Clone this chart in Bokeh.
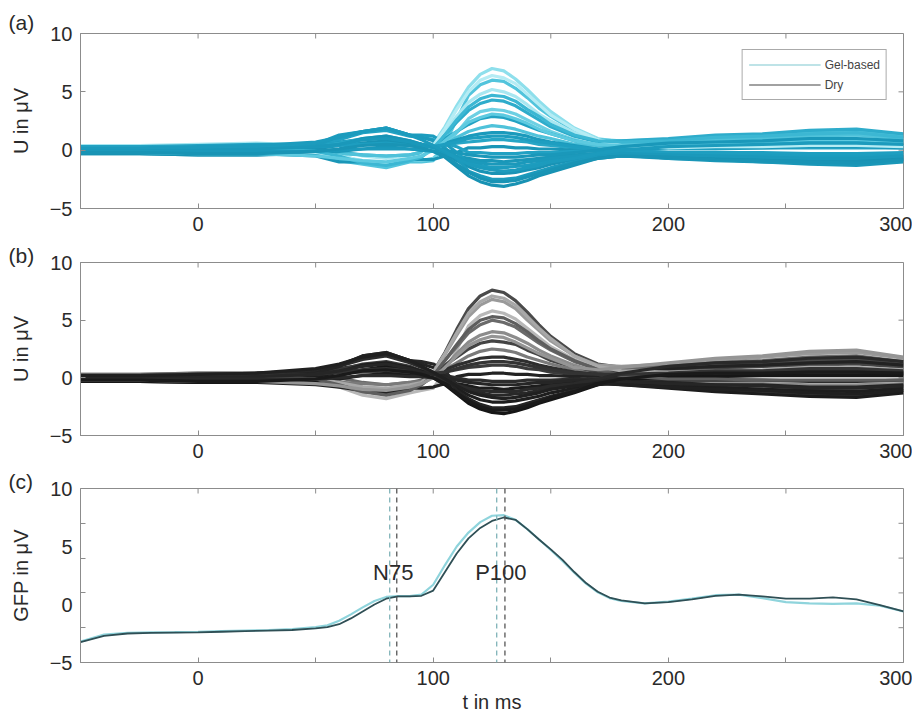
import math
from bokeh.plotting import figure
from bokeh.layouts import column
from bokeh.models import (FixedTicker, Range1d, Label, Span, Title,
                          Legend, LegendItem)
from bokeh.embed import file_html
from bokeh.resources import INLINE

# ---------------- data ----------------
T = [-50, -25, 0, 25, 50, 60, 70, 80, 90, 95, 100, 105, 110, 115, 120, 125,
     130, 135, 140, 145, 150, 160, 170, 180, 200, 220, 240, 260, 280, 300]

GEL_01 = [0.3,0.3,0.4,0.4,0.1,-0.4,-1.0,-1.3,-0.8,-0.5,0.5,2.0,3.8,5.4,6.5,7.0,6.8,6.1,5.2,4.2,3.3,1.9,1.0,0.7,0.7,0.8,1.0,1.1,1.2,0.9]
GEL_02 = [0.2,0.2,0.3,0.2,-0.1,-0.9,-1.2,-1.5,-1.0,-1.0,-0.9,0.6,2.6,4.7,5.6,6.0,5.9,5.3,4.5,3.6,2.9,1.7,0.9,0.8,0.9,1.1,1.3,1.5,1.6,1.2]
GEL_03 = [0.4,0.4,0.5,0.6,0.4,0.0,-0.5,-0.7,-0.4,-0.2,0.5,1.6,2.9,4.1,4.8,5.2,5.0,4.6,3.9,3.1,2.5,1.5,0.8,0.5,0.5,0.6,0.7,0.9,0.9,0.7]
GEL_04 = [0.1,0.1,0.1,0.1,0.0,-0.2,-0.4,-0.5,-0.4,-0.2,0.3,1.3,2.4,3.4,4.0,4.3,4.2,3.8,3.2,2.6,2.0,1.2,0.7,0.8,1.0,1.3,1.4,1.7,1.8,1.4]
GEL_05 = [0.0,0.0,0.0,-0.1,-0.3,-0.6,-1.0,-1.2,-0.8,-0.9,-0.7,0.3,1.5,2.7,3.3,3.5,3.4,3.1,2.6,2.1,1.6,0.9,0.4,0.1,-0.2,-0.3,-0.3,-0.4,-0.4,-0.3]
GEL_06 = [0.3,0.3,0.4,0.5,0.5,0.5,0.6,0.5,0.4,0.3,0.5,1.0,1.6,2.2,2.7,2.9,2.8,2.5,2.1,1.7,1.4,0.8,0.4,0.3,0.3,0.4,0.4,0.5,0.5,0.4]
GEL_07 = [-0.1,-0.1,-0.1,-0.2,-0.3,-0.3,-0.4,-0.5,-0.4,-0.2,0.1,0.5,1.1,1.6,1.9,2.1,2.0,1.8,1.5,1.2,1.0,0.5,0.4,0.5,0.7,0.9,1.0,1.2,1.3,1.0]
GEL_08 = [0.2,0.2,0.3,0.3,0.5,0.7,0.9,1.0,0.7,0.5,0.5,0.6,0.9,1.2,1.4,1.5,1.5,1.4,1.2,0.9,0.7,0.4,0.1,-0.2,-0.4,-0.6,-0.6,-0.8,-0.8,-0.6]
GEL_09 = [0.0,0.0,0.0,0.1,0.3,0.6,1.0,1.2,0.8,0.5,0.4,0.4,0.6,0.7,0.8,0.9,0.9,0.8,0.7,0.5,0.4,0.2,0.1,0.1,0.1,0.1,0.2,0.2,0.2,0.2]
GEL_10 = [-0.2,-0.2,-0.3,-0.3,-0.5,-1.0,-1.0,-1.1,-0.8,-0.8,-0.8,-0.5,-0.2,0.2,0.2,0.3,0.3,0.2,0.2,0.1,0.1,0.0,-0.1,-0.3,-0.7,-0.8,-1.0,-1.1,-1.2,-0.9]
GEL_11 = [0.1,0.1,0.1,0.2,0.6,0.9,1.5,1.7,1.2,1.1,0.9,0.6,0.3,-0.2,-0.2,-0.3,-0.3,-0.3,-0.2,-0.2,-0.2,-0.1,0.0,0.2,0.4,0.5,0.6,0.7,0.7,0.5]
GEL_12 = [-0.3,-0.3,-0.4,-0.4,-0.3,-0.1,0.1,0.3,0.1,0.0,-0.1,-0.2,-0.5,-0.7,-0.9,-0.9,-1.0,-0.9,-0.8,-0.7,-0.6,-0.4,-0.3,-0.5,-0.7,-0.9,-1.0,-1.2,-1.3,-1.0]
GEL_13 = [0.0,0.0,0.0,0.1,0.5,1.3,1.6,1.9,1.3,1.3,1.2,0.6,-0.2,-1.1,-1.3,-1.5,-1.5,-1.4,-1.3,-1.1,-0.9,-0.6,-0.4,-0.3,-0.3,-0.4,-0.4,-0.5,-0.5,-0.4]
GEL_14 = [-0.2,-0.2,-0.3,-0.2,0.1,0.4,1.0,1.2,0.8,0.5,0.2,-0.3,-0.9,-1.4,-1.8,-2.0,-2.0,-1.9,-1.7,-1.5,-1.2,-0.8,-0.5,-0.5,-0.6,-0.7,-0.8,-1.0,-1.0,-0.8]
GEL_15 = [-0.1,-0.1,-0.1,0.0,0.4,1.2,1.6,1.9,1.3,1.1,0.8,0.2,-0.7,-1.8,-2.2,-2.5,-2.5,-2.4,-2.1,-1.8,-1.5,-1.0,-0.5,-0.1,0.2,0.2,0.2,0.3,0.3,0.2]
GEL_16 = [-0.3,-0.3,-0.4,-0.4,-0.2,0.1,0.6,0.8,0.5,0.3,-0.1,-0.6,-1.4,-2.2,-2.7,-3.0,-3.1,-2.9,-2.6,-2.2,-1.9,-1.3,-0.7,-0.5,-0.5,-0.6,-0.7,-0.9,-0.9,-0.7]
GEL_17 = [0.1,0.1,0.1,0.1,-0.2,-0.5,-0.9,-1.1,-0.8,-0.5,0.4,1.8,3.5,5.0,6.0,6.4,6.2,5.7,4.8,3.9,3.0,1.8,0.9,0.4,0.2,0.3,0.3,0.4,0.4,0.3]
GEL_18 = [0.2,0.2,0.3,0.2,-0.1,-0.5,-1.1,-1.3,-0.9,-0.6,0.2,1.3,2.6,3.7,4.4,4.7,4.6,4.2,3.5,2.9,2.2,1.3,0.8,0.7,0.8,1.1,1.2,1.4,1.5,1.1]
GEL_19 = [-0.2,-0.2,-0.3,-0.3,-0.5,-0.7,-0.9,-1.0,-0.7,-0.5,0.0,0.8,1.6,2.4,2.8,3.1,3.0,2.7,2.3,1.8,1.4,0.8,0.5,0.4,0.5,0.6,0.7,0.9,0.9,0.7]
GEL_20 = [0.1,0.1,0.1,0.2,0.3,0.4,0.5,0.6,0.4,0.3,0.3,0.5,0.7,1.0,1.1,1.2,1.2,1.1,0.9,0.7,0.6,0.3,0.1,0.0,-0.2,-0.2,-0.2,-0.3,-0.3,-0.2]
GEL_21 = [0.0,0.0,0.0,0.1,0.3,0.5,0.9,1.0,0.7,0.5,0.2,0.0,-0.2,-0.4,-0.5,-0.6,-0.6,-0.6,-0.5,-0.4,-0.4,-0.2,0.0,0.3,0.6,0.7,0.8,1.0,1.0,0.8]
GEL_22 = [-0.1,-0.1,-0.1,-0.1,-0.1,0.0,0.1,0.1,0.1,0.0,-0.1,-0.3,-0.6,-0.9,-1.1,-1.2,-1.2,-1.2,-1.0,-0.9,-0.7,-0.5,-0.3,-0.3,-0.4,-0.5,-0.6,-0.7,-0.7,-0.5]
GEL_23 = [0.2,0.2,0.3,0.4,0.7,1.1,1.6,1.9,1.3,0.9,0.4,-0.1,-0.7,-1.2,-1.5,-1.7,-1.8,-1.7,-1.5,-1.3,-1.0,-0.7,-0.3,0.0,0.3,0.4,0.5,0.6,0.6,0.5]
GEL_24 = [-0.2,-0.2,-0.3,-0.3,-0.1,0.1,0.4,0.5,0.4,0.2,-0.1,-0.5,-1.2,-1.9,-2.4,-2.7,-2.7,-2.6,-2.3,-2.0,-1.7,-1.1,-0.7,-0.5,-0.6,-0.8,-0.9,-1.0,-1.1,-0.8]

DRY_01 = [0.2,0.2,0.3,0.2,-0.1,-0.5,-1.2,-1.4,-1.0,-0.6,0.5,2.2,4.2,6.0,7.1,7.6,7.4,6.7,5.7,4.6,3.6,2.1,1.2,0.9,0.9,1.1,1.3,1.5,1.6,1.2]
DRY_02 = [0.3,0.3,0.4,0.4,0.1,-0.3,-0.8,-1.1,-0.7,-0.4,0.5,2.0,3.7,5.3,6.3,6.8,6.6,6.0,5.0,4.1,3.2,1.9,1.1,1.0,1.2,1.5,1.8,2.1,2.2,1.7]
DRY_03 = [0.1,0.1,0.1,0.1,-0.3,-0.8,-1.5,-1.8,-1.3,-1.1,-0.9,0.5,2.4,4.5,5.4,5.8,5.6,5.1,4.3,3.5,2.7,1.6,0.8,0.5,0.4,0.6,0.6,0.8,0.8,0.6]
DRY_04 = [0.3,0.3,0.4,0.4,0.3,0.0,-0.4,-0.6,-0.4,-0.2,0.4,1.5,2.7,3.9,4.6,5.0,4.8,4.4,3.7,3.0,2.4,1.4,0.8,0.8,1.0,1.3,1.5,1.8,1.9,1.4]
DRY_05 = [0.0,0.0,0.0,-0.1,-0.4,-0.7,-1.2,-1.4,-1.0,-0.6,0.1,1.0,2.1,3.1,3.7,4.0,3.9,3.5,3.0,2.4,1.9,1.1,0.5,0.0,-0.3,-0.4,-0.5,-0.6,-0.6,-0.5]
DRY_06 = [0.2,0.2,0.3,0.3,0.4,0.5,0.5,0.6,0.4,0.3,0.5,1.1,1.8,2.5,3.0,3.2,3.1,2.9,2.4,2.0,1.5,0.9,0.5,0.5,0.7,0.8,1.0,1.1,1.2,0.9]
DRY_07 = [-0.1,-0.1,-0.1,-0.2,-0.3,-0.4,-0.5,-0.6,-0.4,-0.3,0.1,0.7,1.3,1.9,2.3,2.5,2.4,2.2,1.8,1.5,1.2,0.7,0.2,-0.2,-0.6,-0.7,-0.8,-1.0,-1.0,-0.8]
DRY_08 = [0.2,0.2,0.3,0.4,0.6,0.8,1.1,1.2,0.8,0.6,0.5,0.7,1.1,1.4,1.7,1.8,1.8,1.6,1.4,1.1,0.9,0.5,0.3,0.2,0.2,0.3,0.3,0.4,0.4,0.3]
DRY_09 = [0.0,0.0,0.0,0.1,0.4,0.7,1.2,1.4,1.0,0.6,0.5,0.5,0.7,0.9,1.0,1.1,1.1,1.0,0.8,0.7,0.5,0.3,0.0,-0.4,-0.8,-1.1,-1.2,-1.4,-1.5,-1.1]
DRY_10 = [-0.2,-0.2,-0.3,-0.4,-0.6,-0.8,-1.1,-1.3,-0.9,-0.9,-0.8,-0.5,0.1,0.3,0.3,0.4,0.4,0.3,0.3,0.2,0.2,0.1,0.2,0.4,0.8,1.0,1.1,1.3,1.4,1.1]
DRY_11 = [0.1,0.1,0.1,0.2,0.6,1.0,1.6,1.9,1.3,0.9,0.5,0.2,0.0,-0.2,-0.2,-0.3,-0.3,-0.3,-0.2,-0.2,-0.2,-0.1,-0.1,-0.1,-0.2,-0.2,-0.2,-0.3,-0.3,-0.2]
DRY_12 = [-0.3,-0.3,-0.4,-0.4,-0.3,-0.1,0.2,0.4,0.2,0.1,0.0,-0.2,-0.5,-0.7,-0.9,-0.9,-1.0,-0.9,-0.8,-0.7,-0.6,-0.4,-0.4,-0.6,-0.9,-1.2,-1.4,-1.6,-1.7,-1.3]
DRY_13 = [0.0,0.0,0.0,0.1,0.6,1.1,1.9,2.2,1.5,1.4,1.2,0.6,-0.6,-1.1,-1.3,-1.5,-1.5,-1.4,-1.3,-1.1,-0.9,-0.6,-0.2,0.1,0.3,0.4,0.5,0.6,0.6,0.5]
DRY_14 = [-0.2,-0.2,-0.3,-0.2,0.1,0.5,1.1,1.3,0.9,0.6,0.2,-0.3,-0.9,-1.5,-1.9,-2.1,-2.1,-2.0,-1.8,-1.6,-1.3,-0.9,-0.5,-0.5,-0.7,-0.8,-1.0,-1.1,-1.2,-0.9]
DRY_15 = [-0.1,-0.1,-0.1,0.0,0.4,1.0,1.9,2.2,1.5,1.2,0.9,0.2,-1.1,-1.8,-2.3,-2.6,-2.6,-2.5,-2.2,-1.9,-1.6,-1.1,-0.6,-0.4,-0.4,-0.6,-0.6,-0.8,-0.8,-0.6]
DRY_16 = [-0.3,-0.3,-0.4,-0.4,-0.2,0.2,0.7,1.0,0.6,0.4,0.0,-0.6,-1.4,-2.2,-2.7,-3.0,-3.1,-2.9,-2.6,-2.2,-1.9,-1.3,-0.6,-0.2,0.1,0.1,0.2,0.2,0.2,0.2]
DRY_17 = [0.1,0.1,0.1,0.1,-0.1,-0.4,-0.8,-0.9,-0.6,-0.4,0.5,2.1,3.9,5.6,6.6,7.1,6.9,6.3,5.3,4.3,3.4,1.9,1.0,0.6,0.5,0.6,0.7,0.9,0.9,0.7]
DRY_18 = [0.2,0.2,0.3,0.2,-0.1,-0.6,-1.2,-1.5,-1.1,-0.6,0.2,1.5,2.9,4.2,5.0,5.3,5.2,4.7,4.0,3.2,2.5,1.5,0.7,0.2,-0.1,-0.1,-0.2,-0.2,-0.2,-0.2]
DRY_19 = [-0.2,-0.2,-0.3,-0.3,-0.5,-0.7,-1.0,-1.1,-0.8,-0.5,0.0,0.9,1.9,2.8,3.3,3.6,3.5,3.1,2.6,2.1,1.7,0.9,0.7,0.9,1.3,1.7,1.9,2.3,2.4,1.8]
DRY_20 = [0.1,0.1,0.1,0.2,0.3,0.5,0.7,0.8,0.6,0.4,0.4,0.5,0.8,1.1,1.3,1.4,1.4,1.3,1.1,0.9,0.7,0.4,0.3,0.3,0.4,0.6,0.6,0.8,0.8,0.6]
DRY_21 = [0.0,0.0,0.0,0.1,0.3,0.6,1.0,1.2,0.8,0.5,0.3,0.0,-0.2,-0.4,-0.5,-0.6,-0.6,-0.6,-0.5,-0.4,-0.4,-0.2,-0.2,-0.3,-0.5,-0.6,-0.7,-0.9,-0.9,-0.7]
DRY_22 = [-0.1,-0.1,-0.1,-0.1,-0.1,0.0,0.2,0.2,0.1,0.1,0.0,-0.2,-0.6,-0.9,-1.1,-1.2,-1.2,-1.2,-1.0,-0.9,-0.7,-0.5,-0.1,0.4,1.0,1.3,1.4,1.7,1.8,1.4]
DRY_23 = [0.2,0.2,0.3,0.4,0.8,1.2,1.8,2.1,1.5,1.0,0.5,-0.1,-0.7,-1.2,-1.5,-1.7,-1.8,-1.7,-1.5,-1.3,-1.0,-0.7,-0.5,-0.6,-0.8,-1.0,-1.1,-1.3,-1.4,-1.1]
DRY_24 = [-0.2,-0.2,-0.3,-0.3,-0.1,0.2,0.6,0.7,0.5,0.3,0.0,-0.5,-1.3,-2.0,-2.5,-2.8,-2.8,-2.7,-2.4,-2.1,-1.7,-1.2,-0.5,-0.1,0.3,0.4,0.4,0.5,0.5,0.4]

GEL = [GEL_01, GEL_02, GEL_03, GEL_04, GEL_05, GEL_06, GEL_07, GEL_08,
       GEL_09, GEL_10, GEL_11, GEL_12, GEL_13, GEL_14, GEL_15, GEL_16,
       GEL_17, GEL_18, GEL_19, GEL_20, GEL_21, GEL_22, GEL_23, GEL_24]
DRY = [DRY_01, DRY_02, DRY_03, DRY_04, DRY_05, DRY_06, DRY_07, DRY_08,
       DRY_09, DRY_10, DRY_11, DRY_12, DRY_13, DRY_14, DRY_15, DRY_16,
       DRY_17, DRY_18, DRY_19, DRY_20, DRY_21, DRY_22, DRY_23, DRY_24]

TG = [-50, -40, -30, -20, -10, 0, 10, 20, 30, 40, 50, 55, 60, 65, 70, 75, 80,
      85, 90, 95, 100, 105, 110, 115, 120, 125, 130, 135, 140, 145, 150, 155,
      160, 165, 170, 175, 180, 190, 200, 210, 220, 230, 240, 250, 260, 270,
      280, 290, 300]
GFP_GEL = [-3.2, -2.6, -2.45, -2.4, -2.38, -2.35, -2.3, -2.25, -2.2, -2.12, -1.95,
           -1.8, -1.4, -0.85, -0.25, 0.3, 0.65, 0.72, 0.72, 0.85, 1.7,
           3.4, 5.0, 6.2, 7.1, 7.65, 7.7, 7.3, 6.5, 5.6, 4.7,
           3.75, 2.75, 1.8, 1.05, 0.55, 0.3,
           0.1, 0.25, 0.5, 0.8, 0.85, 0.55, 0.2, 0.1, 0.05, 0.1, -0.1, -0.6]
GFP_DRY = [-3.25, -2.7, -2.5, -2.45, -2.42, -2.4, -2.35, -2.3, -2.25, -2.2, -2.05,
           -1.95, -1.7, -1.2, -0.6, 0.0, 0.5, 0.7, 0.7, 0.75, 1.2,
           2.8, 4.4, 5.7, 6.6, 7.2, 7.5, 7.3, 6.5, 5.6, 4.75,
           3.85, 2.8, 1.85, 1.1, 0.6, 0.35,
           0.1, 0.2, 0.45, 0.75, 0.85, 0.7, 0.5, 0.5, 0.62, 0.45, -0.05, -0.6]

PEAK_NAMES = ["N75", "P100"]
PEAKS_GEL = [81.5, 127.0]
PEAKS_DRY = [84.5, 130.5]

X_MIN, X_MAX = -50, 300
Y_MIN, Y_MAX = -5, 10
X_TICKS = [-50, 0, 50, 100, 150, 200, 250, 300]
X_TICK_LABELS = {-50: "", 0: "0", 50: "", 100: "100", 150: "", 200: "200", 250: "", 300: "300"}
Y_TICKS = [-5, 0, 5, 10]
Y_TICK_LABELS = {-5: "\u22125", 0: "0", 5: "5", 10: "10"}
Y_MINOR_C = [-2, 1, 4, 7]

# ---------------- style ----------------
FONT = "Liberation Sans"
TXT = "#2a2a2a"
AX = "#8c8c8c"
W = 912

GEL_COLORS = ["#8edfec", "#52c4dc", "#a8e7f1", "#2eaccb", "#6dd0e3", "#22a2c3",
              "#4fc2da", "#1b9abc", "#27a6c6", "#1a96b7", "#21a1c3", "#1a97b8",
              "#1d9dbf", "#1993b5", "#1c9abc", "#1892b3", "#b5ecf4", "#3cb7d3",
              "#5dcae0", "#1e9ec0", "#1a98ba", "#1b99bb", "#1c9bbd", "#1994b5"]
DRY_COLORS = ["#4a4a4a", "#9a9a9a", "#b8b8b8", "#6a6a6a", "#8c8c8c", "#444444",
              "#7a7a7a", "#2e2e2e", "#3a3a3a", "#222222", "#2c2c2c", "#1c1c1c",
              "#282828", "#1e1e1e", "#242424", "#161616", "#a8a8a8", "#5e5e5e",
              "#959595", "#333333", "#262626", "#2a2a2a", "#202020", "#1a1a1a"]


def style_axis(ax):
    ax.axis_line_color = AX
    ax.major_tick_line_color = AX
    ax.minor_tick_line_color = None
    ax.major_tick_in = 5
    ax.major_tick_out = 0
    ax.minor_tick_in = 5
    ax.minor_tick_out = 0
    ax.major_label_text_font = FONT
    ax.major_label_text_color = TXT
    ax.major_label_text_font_size = "20px"
    ax.major_label_standoff = 8
    ax.axis_label_text_font = FONT
    ax.axis_label_text_font_size = "20px"
    ax.axis_label_text_font_style = "normal"
    ax.axis_label_text_color = TXT


def make_panel(h, top, bottom, ylabel, tag, tag_standoff, xlabel=None, gfp=False):
    p = figure(width=W, height=h, x_range=Range1d(X_MIN, X_MAX),
               y_range=Range1d(Y_MIN, Y_MAX),
               output_backend="svg", toolbar_location=None,
               min_border_left=80, min_border_right=9,
               min_border_top=top, min_border_bottom=bottom,
               background_fill_color="white", border_fill_color="white")
    p.grid.visible = False
    p.outline_line_color = AX
    p.outline_line_width = 1

    xa = p.xaxis[0]
    ya = p.yaxis[0]
    xa.ticker = FixedTicker(ticks=X_TICKS)
    ya.ticker = (FixedTicker(ticks=Y_TICKS, minor_ticks=Y_MINOR_C) if gfp
                 else FixedTicker(ticks=Y_TICKS))
    style_axis(xa)
    style_axis(ya)
    xa.major_label_overrides = X_TICK_LABELS
    ya.major_label_overrides = Y_TICK_LABELS
    ya.axis_label = ylabel
    ya.axis_label_standoff = 15
    if xlabel:
        xa.axis_label = xlabel
        xa.axis_label_standoff = 3
    if gfp:
        ya.major_tick_in = 0
        ya.minor_tick_line_color = AX

    # inward ticks on the top and right edges of the box
    p.ray(x=X_TICKS, y=[Y_MAX] * len(X_TICKS), length=5, length_units="screen",
          angle=-math.pi / 2, line_color=AX, line_width=1)
    right_ticks = Y_MINOR_C if gfp else Y_TICKS
    p.ray(x=[X_MAX] * len(right_ticks), y=right_ticks, length=5,
          length_units="screen", angle=math.pi, line_color=AX, line_width=1)

    t = Title(text=tag, align="left", offset=-72, standoff=tag_standoff,
              text_font=FONT, text_font_size="21px", text_font_style="normal",
              text_color=TXT)
    p.add_layout(t, "above")
    return p


# (a) gel-based butterfly
p1 = make_panel(237, 33, 29, "U in \u03bcV", "(a)", 0)
p1.multi_line(xs=[T[:len(ch)] for ch in GEL], ys=GEL, line_color=GEL_COLORS,
              line_width=3.2, line_join="round")
nan = float("nan")
r_gel = p1.line(x=[nan, nan], y=[nan, nan], line_color="#a9dadf", line_width=1.5)
r_dry = p1.line(x=[nan, nan], y=[nan, nan], line_color="#444444", line_width=1.2)
legend = Legend(items=[LegendItem(label="Gel-based", renderers=[r_gel]),
                       LegendItem(label="Dry", renderers=[r_dry])],
                location="top_right", margin=16, padding=6, spacing=3,
                glyph_width=72, glyph_height=17, label_height=17,
                label_standoff=4, label_text_font=FONT,
                label_text_font_size="12px", label_text_color="#444444",
                border_line_color="#555555", border_line_width=1,
                background_fill_color="white", background_fill_alpha=1)
p1.add_layout(legend)

# (b) dry butterfly
p2 = make_panel(227, 25, 29, "U in \u03bcV", "(b)", -9)
p2.multi_line(xs=[T[:len(ch)] for ch in DRY], ys=DRY, line_color=DRY_COLORS,
              line_width=3.2, line_join="round")

# (c) GFP
p3 = make_panel(251, 24, 53, "GFP in \u03bcV", "(c)", -9, xlabel="t in ms", gfp=True)
for lat in PEAKS_GEL:
    p3.add_layout(Span(location=lat, dimension="height", line_color="#7fb3b8",
                       line_dash="5 4", line_width=1.3))
for lat in PEAKS_DRY:
    p3.add_layout(Span(location=lat, dimension="height", line_color="#555555",
                       line_dash="5 4", line_width=1.3))
p3.line(TG, GFP_GEL, line_color="#8fd4dc", line_width=2.2)
p3.line(TG, GFP_DRY, line_color="#2f4f55", line_width=1.8)
for name, a, b in zip(PEAK_NAMES, PEAKS_GEL, PEAKS_DRY):
    p3.add_layout(Label(x=(a + b) / 2, y=2.75, text=name, text_font=FONT,
                        text_font_size="22px", text_color=TXT,
                        text_align="center", text_baseline="middle"))

layout = column(p1, p2, p3)
open("out.html", "w").write(file_html(layout, INLINE))
